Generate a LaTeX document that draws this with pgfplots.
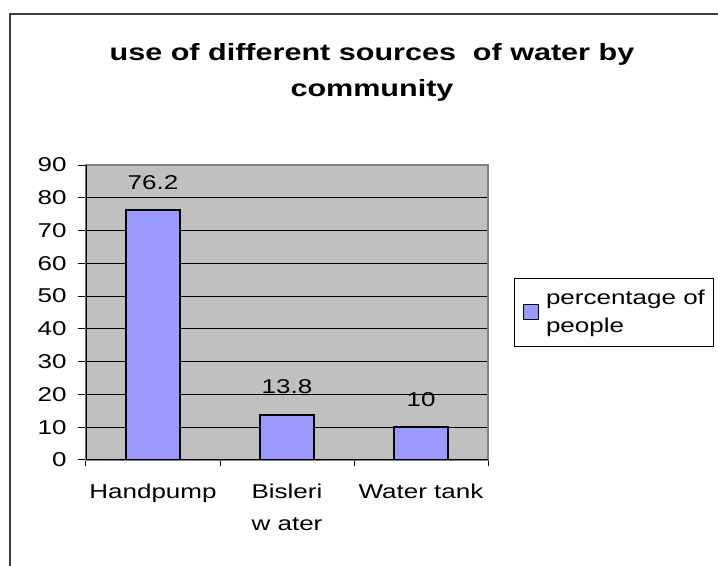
\documentclass[border=0pt]{standalone}
\usepackage{fontspec}
\setmainfont{Liberation Sans}[FakeStretch=1.3]
\usepackage{pgfplots}
\pgfplotsset{compat=1.18}
\definecolor{barblue}{HTML}{9999FF}
\definecolor{plotgray}{HTML}{C0C0C0}
\definecolor{bordergray}{HTML}{808080}
\begin{document}
\begin{tikzpicture}[x=1bp,y=1bp]
% chart frame
\draw[line width=1.5bp, black!75] (-76,-140) rectangle (650,446);
\begin{axis}[
  at={(0,0)}, anchor=south west,
  scale only axis, width=402bp, height=295bp,
  xmin=-0.5, xmax=2.5, ymin=0, ymax=90,
  ybar, bar width=54bp,
  ytick={0,10,...,90},
  xtick={0,1,2},
  xticklabels={Handpump,{Bisleri\\w ater},Water tank},
  minor xtick={-0.5,0.5,1.5,2.5},
  major x tick style={draw=none},
  xtick pos=bottom, ytick pos=left,
  tick align=outside,
  major tick length=8bp, minor tick length=6bp,
  tick style={black, line width=1bp},
  axis background/.style={fill=plotgray},
  axis line style={bordergray, line width=1.5bp},
  ymajorgrids, grid style={black, line width=0.8bp},
  /pgf/number format/assume math mode=true,
  y tick label style={font=\fontsize{20bp}{24bp}\selectfont, xshift=-8bp},
  x tick label style={align=center, font=\fontsize{20bp}{32bp}\selectfont, yshift=-12bp},
  nodes near coords,
  every node near coord/.append style={font=\fontsize{20bp}{24bp}\selectfont, anchor=base, yshift=21bp, black},
  legend style={at={(1,0.5)}, anchor=west, xshift=26bp, draw=black, line width=1bp,
    fill=white, font=\fontsize{20bp}{28bp}\selectfont, cells={align=left},
    inner xsep=6bp, inner ysep=10bp},
]
\addplot[fill=barblue, draw=black, line width=1.5bp,
  legend image code/.code={\path (-2bp,0) (20bp,0);
    \draw[fill=barblue, draw=black, line width=1.5bp] (0bp,-7bp) rectangle (15bp,8bp);}]
  coordinates {(0,76.2) (1,13.8) (2,10)};
\addlegendentry{percentage of\\people}
\draw[black, line width=1.2bp] (rel axis cs:0,1) -- (rel axis cs:0,0) -- (rel axis cs:1,0);
\end{axis}
\node[align=center, font=\fontsize{23.5bp}{36bp}\selectfont\bfseries] at (286,388)
  {use of different sources~ of water by\\community};
\pgfresetboundingbox
\path[use as bounding box] (-86,-106) rectangle (632,460);
\end{tikzpicture}
\end{document}
